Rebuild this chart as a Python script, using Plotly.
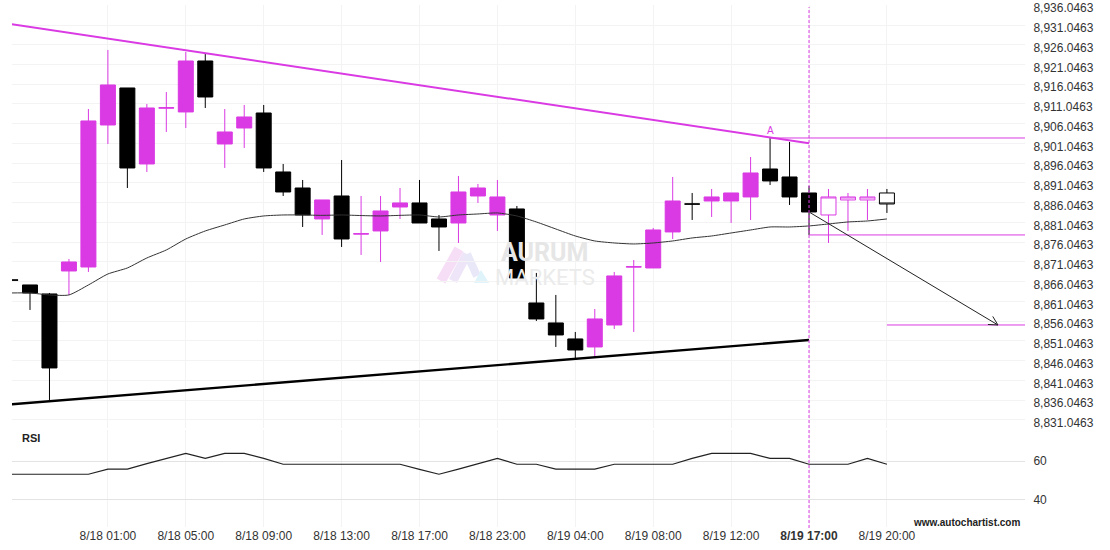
import math
import plotly.graph_objects as go

# ---------------- data ----------------
IDX = list(range(-1, 41))
OPEN = [8866.50, 8865.23, 8862.95, 8868.77, 8869.78, 8905.73, 8915.10, 8895.86, 8910.00, 8909.03,
        8921.94, 8900.92, 8904.97, 8908.77, 8893.84, 8889.78, 8881.94, 8887.76, 8878.10, 8878.90,
        8884.97, 8885.99, 8881.94, 8880.92, 8887.76, 8882.95, 8884.47, 8860.67, 8855.61, 8851.56,
        8849.53, 8855.10, 8869.75, 8869.53, 8878.65, 8885.75, 8886.49, 8886.49, 8887.51, 8894.59,
        8892.57, 8888.52]
HIGH = [8866.50, 8865.23, 8863.20, 8871.81, 8909.78, 8924.72, 8915.10, 8911.05, 8914.09, 8924.21,
        8923.96, 8909.78, 8910.80, 8910.80, 8895.86, 8891.81, 8886.75, 8896.87, 8887.76, 8887.76,
        8889.78, 8891.81, 8882.95, 8892.82, 8890.80, 8891.81, 8885.23, 8868.27, 8862.70, 8853.33,
        8859.15, 8868.52, 8871.56, 8879.66, 8892.57, 8888.52, 8889.53, 8888.52, 8897.63, 8902.44,
        8901.43, 8890.29]
LOW = [8866.45, 8858.90, 8836.11, 8862.70, 8868.52, 8900.92, 8889.78, 8893.84, 8903.96, 8904.97,
       8910.04, 8894.85, 8899.91, 8893.84, 8887.76, 8879.91, 8877.89, 8874.85, 8872.82, 8871.05,
       8881.94, 8880.92, 8873.84, 8875.86, 8885.99, 8878.90, 8867.00, 8856.11, 8849.53, 8846.49,
       8847.00, 8854.09, 8853.33, 8869.53, 8876.87, 8881.68, 8882.44, 8880.92, 8881.68, 8890.54,
       8885.48, 8877.89]
CLOSE = [8866.45, 8863.20, 8844.22, 8871.05, 8906.75, 8915.86, 8894.85, 8910.04, 8910.10, 8921.94,
         8912.82, 8903.96, 8907.76, 8894.85, 8888.77, 8882.95, 8886.75, 8876.87, 8878.20, 8883.96,
         8885.99, 8880.92, 8879.91, 8888.77, 8889.78, 8887.51, 8867.00, 8856.62, 8852.57, 8848.77,
         8856.62, 8867.51, 8869.85, 8879.15, 8886.49, 8885.70, 8887.51, 8888.52, 8893.58, 8891.56,
         8887.51, 8883.71]

POST_IDX = [41, 42, 43, 44]
POST_OPEN = [8882.95, 8886.75, 8886.75, 8888.52]
POST_HIGH = [8889.53, 8888.52, 8889.53, 8889.53]
POST_LOW = [8875.86, 8878.90, 8881.68, 8883.46]
POST_CLOSE = [8887.51, 8887.51, 8887.51, 8885.73]

MA_IDX = list(range(-1, 45))
MA = [8863.20, 8863.20, 8862.70, 8862.70, 8865.23, 8868.01, 8869.53, 8872.06, 8874.09, 8876.87,
      8878.90, 8880.42, 8881.94, 8882.70, 8882.95, 8882.95, 8882.85, 8882.95, 8882.80, 8882.70,
      8882.85, 8882.95, 8882.44, 8882.95, 8883.20, 8883.46, 8882.70, 8881.18, 8879.40, 8877.63,
      8876.37, 8875.86, 8875.61, 8875.86, 8876.37, 8877.13, 8877.63, 8878.39, 8879.15, 8879.91,
      8879.91, 8880.17, 8880.67, 8881.18, 8881.43, 8881.94]

RSI = [53.1, 53.1, 53.1, 53.1, 53.1, 55.8, 55.8, 58.6, 61.4, 64.0,
       61.4, 64.0, 64.0, 61.4, 58.3, 58.3, 58.3, 58.3, 58.3, 58.3,
       58.3, 55.6, 53.1, 55.8, 58.6, 61.4, 58.3, 58.3, 55.8, 55.8,
       55.8, 58.3, 58.3, 58.3, 58.3, 61.4, 64.0, 64.0, 64.0, 61.4,
       61.4, 58.3, 58.3, 58.3, 61.4, 58.3]

TICK_POS = [4, 8, 12, 16, 20, 24, 28, 32, 36, 40, 44]
TICK_TEXT = ["8/18 01:00", "8/18 05:00", "8/18 09:00", "8/18 13:00", "8/18 17:00",
             "8/18 23:00", "8/19 04:00", "8/19 08:00", "8/19 12:00", "<b>8/19 17:00</b>",
             "8/19 20:00"]

UPPER_LINE_X = [-1, 40]
UPPER_LINE_Y = [8931.28, 8901.10]
LOWER_LINE_X = [-1, 40]
LOWER_LINE_Y = [8835.00, 8851.30]

RESIST_START, RESIST_LEVEL = 38, 8902.44
SUPPORT_START, SUPPORT_LEVEL = 40, 8877.89
TARGET_START, TARGET_LEVEL = 44, 8855.10
ARROW_START = (40, 8883.71)
ARROW_END_X = 49.7
PATTERN_END = 40

Y_TICK_START, Y_TICK_STEP, Y_TICK_COUNT = 8831.0463, 5, 22
RSI_TICKS = [40, 60]

# ---------------- styling ----------------
MAGENTA = "#DA3AE3"
X_RANGE = [-0.924, 51.09]
Y_RANGE = [8829.02, 8936.11]
RSI_RANGE = [25.57, 76.17]
PLOT_W, MAIN_H = 1013, 423
FONT = "Liberation Sans, Arial, sans-serif"

fig = go.Figure()

fig.add_trace(go.Candlestick(
    x=IDX, open=OPEN, high=HIGH, low=LOW, close=CLOSE,
    increasing=dict(line=dict(color=MAGENTA, width=1), fillcolor=MAGENTA),
    decreasing=dict(line=dict(color="black", width=1), fillcolor="black"),
    whiskerwidth=0, showlegend=False, hoverinfo="skip", xaxis="x", yaxis="y"))

fig.add_trace(go.Candlestick(
    x=POST_IDX, open=POST_OPEN, high=POST_HIGH, low=POST_LOW, close=POST_CLOSE,
    increasing=dict(line=dict(color=MAGENTA, width=1), fillcolor="white"),
    decreasing=dict(line=dict(color="black", width=1), fillcolor="white"),
    whiskerwidth=0, showlegend=False, hoverinfo="skip", xaxis="x", yaxis="y"))

fig.add_trace(go.Scatter(x=MA_IDX, y=MA, mode="lines", line=dict(color="#333333", width=1, shape="spline", smoothing=0.6),
                         hoverinfo="skip", xaxis="x", yaxis="y"))

fig.add_trace(go.Scatter(x=UPPER_LINE_X, y=UPPER_LINE_Y, mode="lines", line=dict(color=MAGENTA, width=2),
                         hoverinfo="skip", xaxis="x", yaxis="y"))
fig.add_trace(go.Scatter(x=LOWER_LINE_X, y=LOWER_LINE_Y, mode="lines", line=dict(color="black", width=2.3),
                         hoverinfo="skip", xaxis="x", yaxis="y"))

for start, level in [(RESIST_START, RESIST_LEVEL), (SUPPORT_START, SUPPORT_LEVEL), (TARGET_START, TARGET_LEVEL)]:
    fig.add_trace(go.Scatter(x=[start, X_RANGE[1]], y=[level, level], mode="lines",
                             line=dict(color=MAGENTA, width=1), hoverinfo="skip", xaxis="x", yaxis="y"))

# forecast arrow
fig.add_trace(go.Scatter(x=[ARROW_START[0], ARROW_END_X], y=[ARROW_START[1], TARGET_LEVEL], mode="lines",
                         line=dict(color="#222222", width=1), hoverinfo="skip", xaxis="x", yaxis="y"))
px_x = PLOT_W / (X_RANGE[1] - X_RANGE[0])
px_y = MAIN_H / (Y_RANGE[1] - Y_RANGE[0])
dx = (ARROW_END_X - ARROW_START[0]) * px_x
dy = (TARGET_LEVEL - ARROW_START[1]) * px_y
back = math.atan2(-dy, -dx)
L, th = 10, math.radians(28)
a1 = (L * math.cos(back + th), L * math.sin(back + th))
a2 = (L * math.cos(back - th), L * math.sin(back - th))

shapes = [
    dict(type="path", xref="x", yref="y", xsizemode="pixel", ysizemode="pixel",
         xanchor=ARROW_END_X, yanchor=TARGET_LEVEL,
         path=f"M {a1[0]:.2f},{a1[1]:.2f} L 0,0 L {a2[0]:.2f},{a2[1]:.2f}",
         line=dict(color="#222222", width=1)),
    dict(type="line", xref="x", yref="paper", x0=PATTERN_END, x1=PATTERN_END, y0=-0.002, y1=0.996,
         line=dict(color=MAGENTA, width=1, dash="3px,2px")),
]

# watermark logo (decoration, figure pixel positions)
def pp(px, py):
    return (px - 12) / 1013, (527 - py) / 522

for (p0, p1, col, w) in [((441, 281), (459, 249), "#f7def7", 10),
                         ((453, 281), (467, 254), "#eee6f8", 9),
                         ((467, 254), (477, 276), "#e9e8f9", 8)]:
    x0, y0 = pp(*p0); x1, y1 = pp(*p1)
    shapes.append(dict(type="line", xref="paper", yref="paper", x0=x0, y0=y0, x1=x1, y1=y1,
                       line=dict(color=col, width=w), layer="below"))
t1, t2, t3 = pp(474, 283), pp(481, 270), pp(489, 283)
shapes.append(dict(type="path", xref="paper", yref="paper",
                   path=f"M {t1[0]},{t1[1]} L {t2[0]},{t2[1]} L {t3[0]},{t3[1]} Z",
                   fillcolor="#dff3fb", line=dict(width=0), layer="below"))

# RSI
fig.add_trace(go.Scatter(x=MA_IDX, y=RSI, mode="lines", line=dict(color="#222222", width=1.2),
                         hoverinfo="skip", xaxis="x2", yaxis="y2"))

y_ticks = [Y_TICK_START + Y_TICK_STEP * k for k in range(Y_TICK_COUNT)]

annotations = [
    dict(text="A", x=RESIST_START, y=RESIST_LEVEL, xref="x", yref="y", showarrow=False,
         yanchor="bottom", font=dict(color=MAGENTA, size=10, family=FONT)),
    dict(text="<b>RSI</b>", x=0.008, y=0.171, xref="paper", yref="paper", xanchor="left", yanchor="middle",
         showarrow=False, font=dict(size=11, color="#222222", family=FONT)),
    dict(text="<b>www.autochartist.com</b>", x=0.997, y=0.008, xref="paper", yref="paper",
         xanchor="right", yanchor="middle", showarrow=False,
         font=dict(size=10, color="#222222", family=FONT)),
    dict(text="<b>AURUM</b>", x=pp(544, 252)[0], y=pp(544, 252)[1], xref="paper", yref="paper",
         showarrow=False, font=dict(size=25, color="#e6e6e6", family="Roboto, Liberation Sans")),
    dict(text="MARKETS", x=pp(545, 277)[0], y=pp(545, 277)[1], xref="paper", yref="paper",
         showarrow=False, font=dict(size=22, color="#ebebeb", family="Roboto, Liberation Sans")),
]

fig.update_layout(
    width=1110, height=550,
    margin=dict(l=12, r=85, t=5, b=23),
    paper_bgcolor="white", plot_bgcolor="white",
    showlegend=False, boxgap=0.23, boxgroupgap=0,
    font=dict(family=FONT, size=12, color="#333333"),
    xaxis=dict(domain=[0, 1], range=X_RANGE, anchor="y", tickvals=TICK_POS, showticklabels=False,
               showgrid=True, gridcolor="#f3f3f3", zeroline=False, showline=False, ticks="",
               rangeslider=dict(visible=False), fixedrange=True, automargin=False),
    yaxis=dict(domain=[0.1897, 1], range=Y_RANGE, side="right", anchor="x", tickvals=y_ticks,
               tickformat=",.4f", showgrid=True, gridcolor="#f3f3f3", zeroline=False, showline=False,
               ticks="outside", ticklen=5, tickcolor="rgba(0,0,0,0)", ticklabeloverflow="allow",
               ticklabelshift=3, automargin=False),
    xaxis2=dict(domain=[0, 1], range=X_RANGE, anchor="y2", tickvals=TICK_POS, ticktext=TICK_TEXT,
                showgrid=True, gridcolor="#f3f3f3", zeroline=False, showline=False, ticks="",
                automargin=False),
    yaxis2=dict(domain=[0, 0.1858], range=RSI_RANGE, side="right", anchor="x2", tickvals=RSI_TICKS,
                showgrid=True, gridcolor="#e3e3e3", zeroline=False, showline=False,
                ticks="outside", ticklen=5, tickcolor="rgba(0,0,0,0)", automargin=False),
    shapes=shapes, annotations=annotations,
)

fig.write_html("out.html", config={"displayModeBar": False},
               post_script="document.body.style.margin='0px';")
